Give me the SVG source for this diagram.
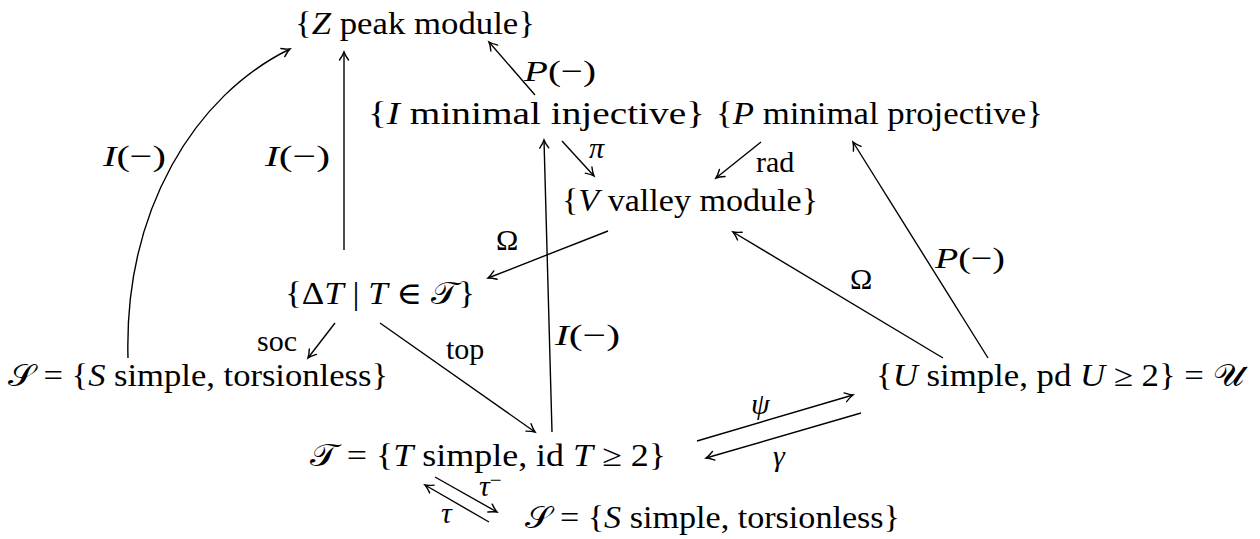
<svg xmlns="http://www.w3.org/2000/svg" width="1260" height="539" viewBox="0 0 1260 539">
<defs>
<style>
text { font-family: "Liberation Serif", "DejaVu Serif", serif; font-size: 31px; fill: #000; }
.i { font-style: italic; }
.lbl { font-size: 30px; }
.c { fill: none; stroke: #000; stroke-width: 1.4; marker-end: url(#ah); }
</style>
<marker id="ah" markerUnits="userSpaceOnUse" markerWidth="16" markerHeight="16" viewBox="-10 -8 12 16" refX="0" refY="0" orient="auto">
<path d="M-8,-4.5 Q-3,-1 0,0 Q-3,1 -8,4.5" fill="none" stroke="#000" stroke-width="1.4" stroke-linecap="round"/>
</marker>
</defs>
<rect width="1260" height="539" fill="#fff"/>

<g id="connectors">
<path class="c" d="M128,358 C124,210 195,95 290,49"/>
<path class="c" d="M344,250 L344,52"/>
<path class="c" d="M535,95 L489,42"/>
<path class="c" d="M562,141 L594,176"/>
<path class="c" d="M761,142 L716,178"/>
<path class="c" d="M552,432 L544,140"/>
<path class="c" d="M608,231 L488,278"/>
<path class="c" d="M943,358 L733,232"/>
<path class="c" d="M988,358 L853,142"/>
<path class="c" d="M335,323 L308,358"/>
<path class="c" d="M380,323 L535,432"/>
<path class="c" d="M697,441 L853,395"/>
<path class="c" d="M861,413 L706,458"/>
<path class="c" d="M435,477 L497,512"/>
<path class="c" d="M489,522 L425,485"/>
</g>

<g id="labels">
<text class="lbl" x="103" y="166" textLength="63" lengthAdjust="spacingAndGlyphs"><tspan class="i">I</tspan>(−)</text>
<text class="lbl" x="265" y="166" textLength="65" lengthAdjust="spacingAndGlyphs"><tspan class="i">I</tspan>(−)</text>
<text class="lbl" x="524" y="81" textLength="72" lengthAdjust="spacingAndGlyphs"><tspan class="i">P</tspan>(−)</text>
<text class="lbl i" x="589" y="158">π</text>
<text class="lbl" x="756" y="172">rad</text>
<text class="lbl" x="496" y="250">Ω</text>
<text class="lbl" x="850" y="289">Ω</text>
<text class="lbl" x="935" y="268" textLength="70" lengthAdjust="spacingAndGlyphs"><tspan class="i">P</tspan>(−)</text>
<text class="lbl" x="257" y="351">soc</text>
<text class="lbl" x="446" y="359">top</text>
<text class="lbl" x="555" y="345" textLength="65" lengthAdjust="spacingAndGlyphs"><tspan class="i">I</tspan>(−)</text>
<text class="lbl i" x="751" y="414">ψ</text>
<text class="lbl i" x="773" y="466">γ</text>
<text class="lbl" x="479" y="496"><tspan class="i">τ</tspan><tspan dy="-9" font-size="21">−</tspan></text>
<text class="lbl i" x="441" y="523">τ</text>
</g>

<g id="n-peak"><text x="295" y="34" textLength="240" lengthAdjust="spacingAndGlyphs">{<tspan class="i">Z</tspan> peak module}</text></g>
<g id="n-inj"><text x="368" y="124" textLength="337" lengthAdjust="spacingAndGlyphs">{<tspan class="i">I</tspan> minimal injective}</text></g>
<g id="n-proj"><text x="716" y="124" textLength="327" lengthAdjust="spacingAndGlyphs">{<tspan class="i">P</tspan> minimal projective}</text></g>
<g id="n-valley"><text x="562" y="211" textLength="256" lengthAdjust="spacingAndGlyphs">{<tspan class="i">V</tspan> valley module}</text></g>
<g id="n-delta"><text x="285" y="304" textLength="190" lengthAdjust="spacingAndGlyphs">{Δ<tspan class="i">T</tspan> | <tspan class="i">T</tspan> ∈ 𝒯}</text></g>
<g id="n-S1"><text x="8" y="386" textLength="380" lengthAdjust="spacingAndGlyphs">𝒮 = {<tspan class="i">S</tspan> simple, torsionless}</text></g>
<g id="n-U"><text x="876" y="386" textLength="368" lengthAdjust="spacingAndGlyphs">{<tspan class="i">U</tspan> simple,  pd <tspan class="i">U</tspan> ≥ 2} = 𝒰</text></g>
<g id="n-T"><text x="310" y="466" textLength="356" lengthAdjust="spacingAndGlyphs">𝒯 = {<tspan class="i">T</tspan> simple,  id <tspan class="i">T</tspan> ≥ 2}</text></g>
<g id="n-S2"><text x="525" y="528" textLength="375" lengthAdjust="spacingAndGlyphs">𝒮 = {<tspan class="i">S</tspan> simple, torsionless}</text></g>
</svg>
